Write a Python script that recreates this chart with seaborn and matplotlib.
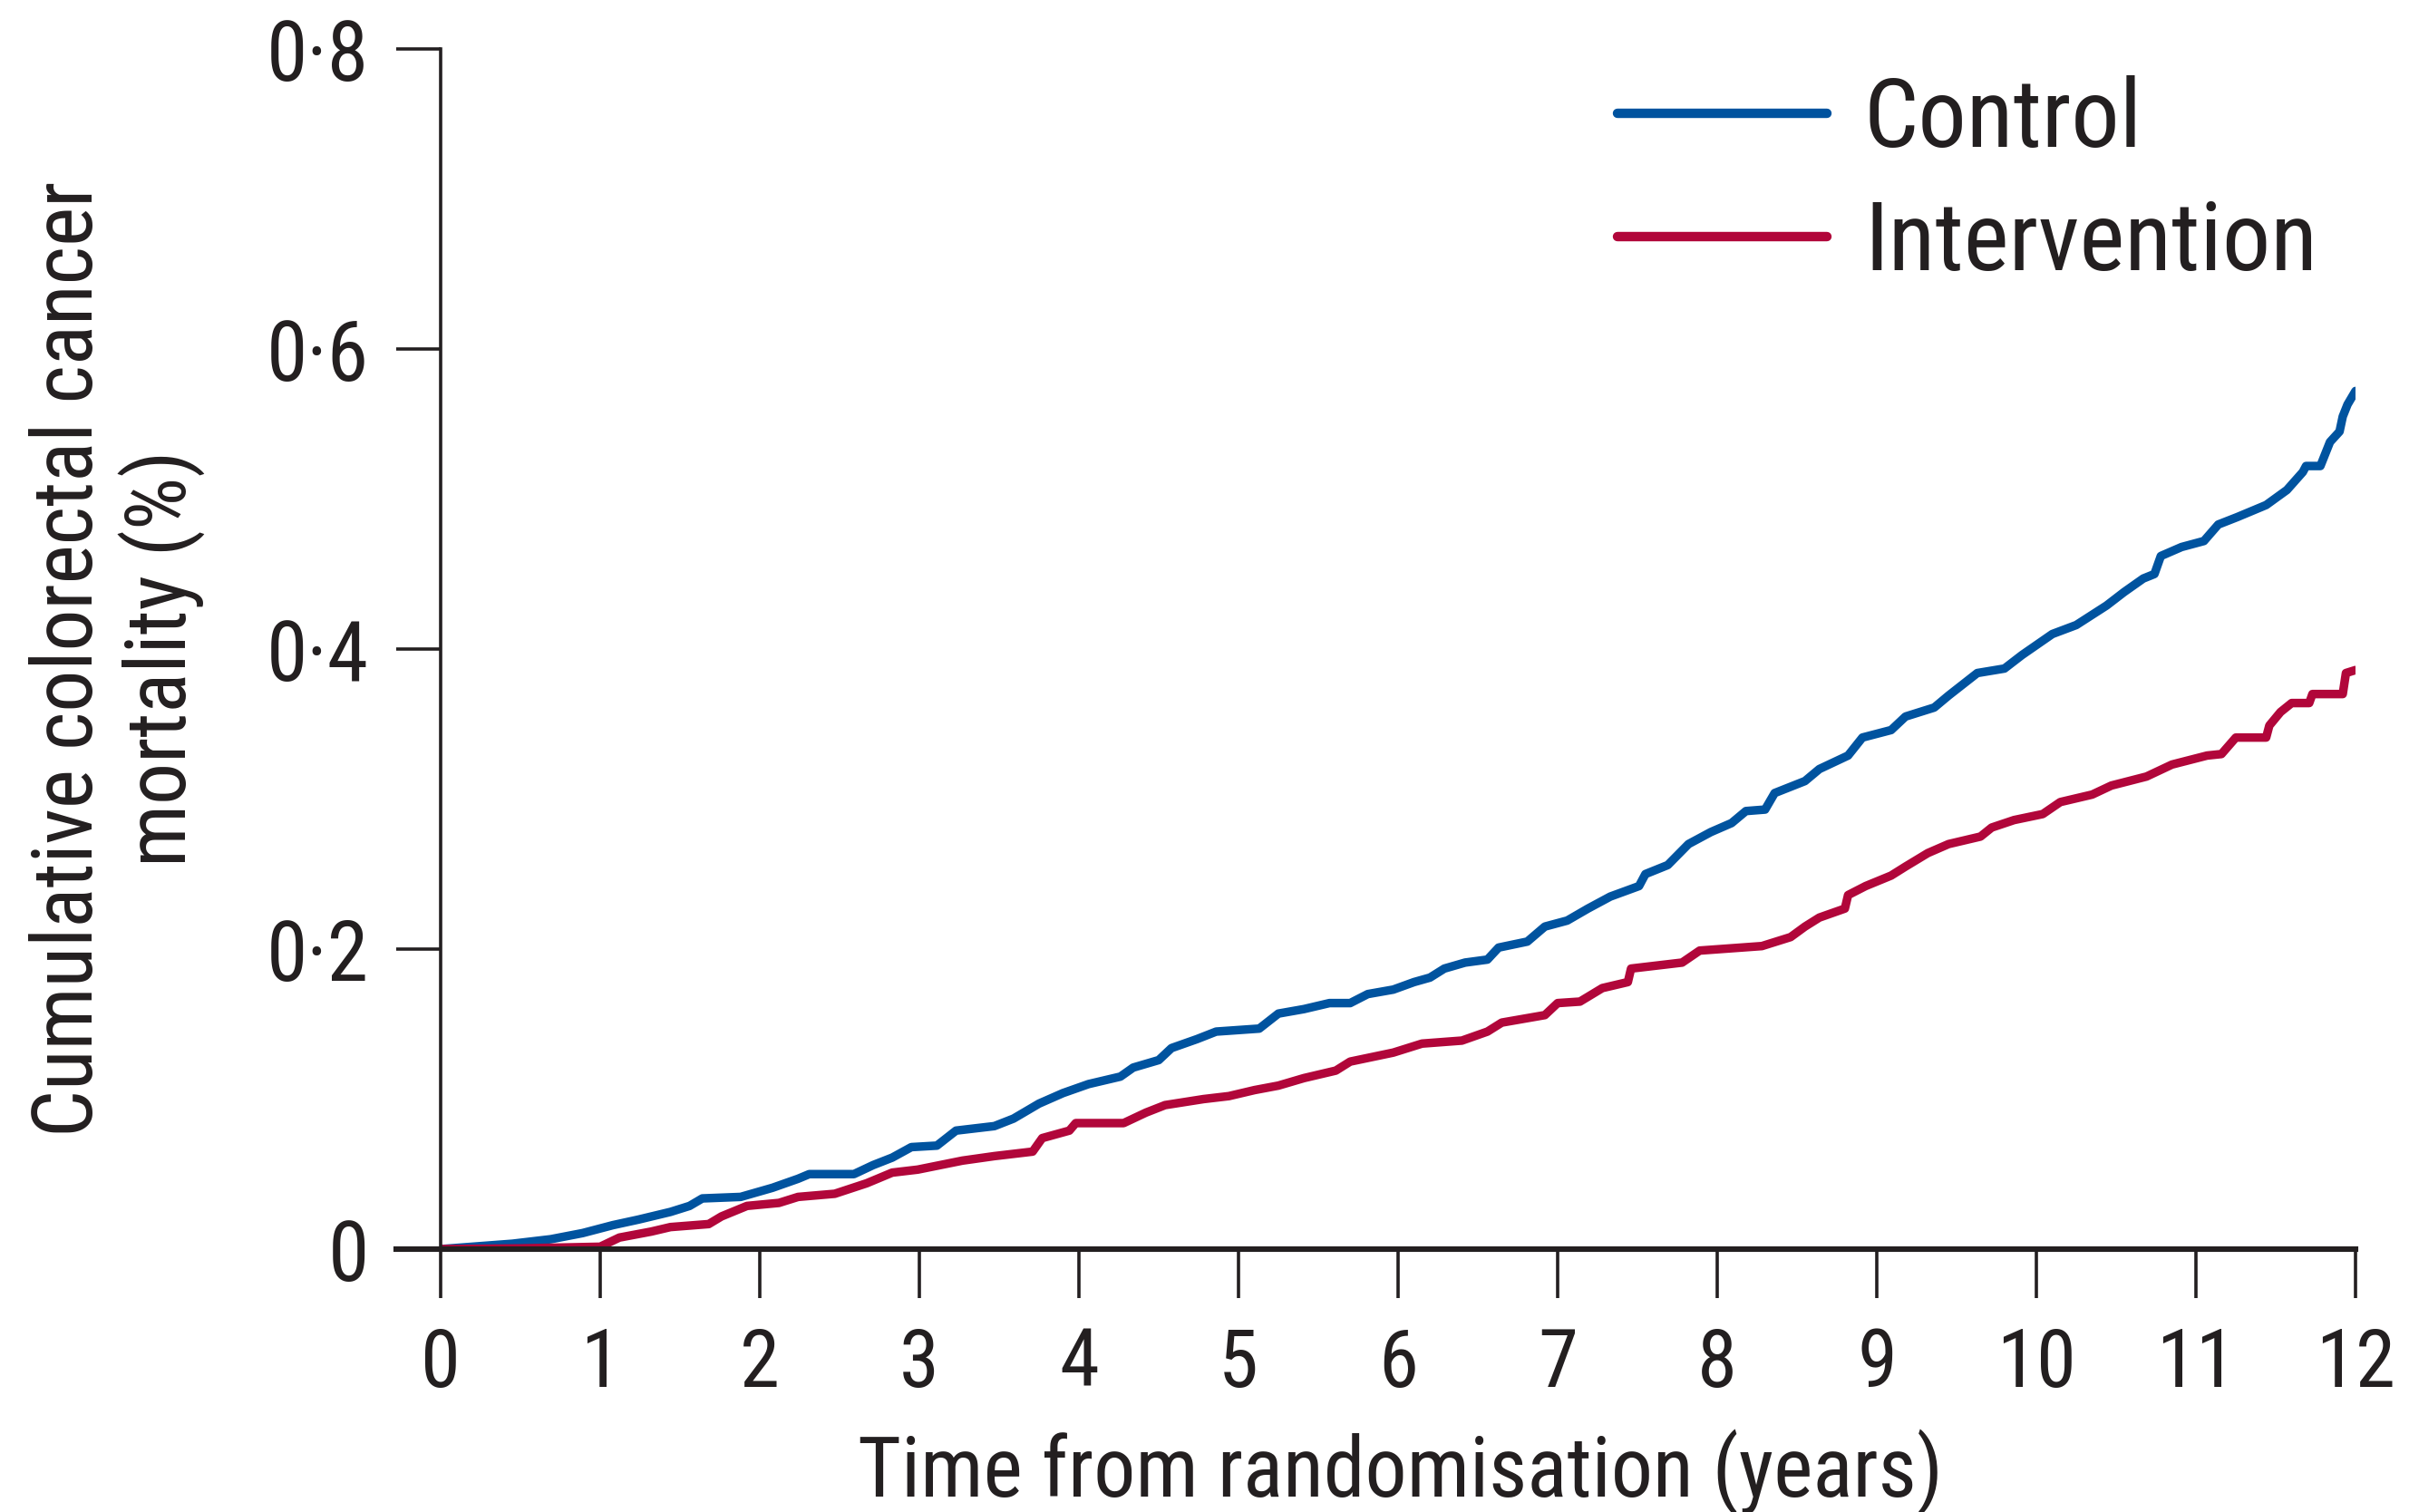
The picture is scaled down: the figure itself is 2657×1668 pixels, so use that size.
import os
import numpy as np
import pandas as pd
import matplotlib
matplotlib.use("Agg")
import matplotlib.pyplot as plt
from matplotlib import font_manager as fm
import seaborn as sns

# ---- data ----
groups = ["Control", "Intervention"]

years_control = [
    0, 0.45, 0.69, 0.89, 1.08, 1.24, 1.44, 1.56, 1.64, 1.88,
    2.08, 2.24, 2.31, 2.59, 2.71, 2.83, 2.95, 3.11, 3.23, 3.47,
    3.59, 3.75, 3.90, 4.06, 4.26, 4.34, 4.50, 4.58, 4.74, 4.86,
    5.13, 5.25, 5.41, 5.57, 5.70, 5.81, 5.97, 6.10, 6.20, 6.29,
    6.42, 6.56, 6.63, 6.81, 6.92, 7.06, 7.19, 7.33, 7.51, 7.55,
    7.69, 7.82, 7.96, 8.09, 8.18, 8.30, 8.36, 8.55, 8.64, 8.82,
    8.91, 9.09, 9.18, 9.36, 9.45, 9.63, 9.80, 9.91, 10.10, 10.25,
    10.44, 10.55, 10.67, 10.74, 10.78, 10.91, 11.05, 11.14, 11.26, 11.44,
    11.57, 11.67, 11.69, 11.78, 11.84, 11.90, 11.92, 11.95, 12.0,
]
mortality_control = [
    0, 0.0036, 0.0066, 0.0107, 0.016, 0.0197, 0.0248, 0.0288, 0.0338, 0.0348,
    0.0409, 0.0469, 0.050, 0.050, 0.056, 0.061, 0.068, 0.069, 0.079, 0.082,
    0.087, 0.097, 0.104, 0.110, 0.115, 0.121, 0.126, 0.134, 0.140, 0.145,
    0.147, 0.157, 0.160, 0.164, 0.164, 0.170, 0.173, 0.178, 0.181, 0.187,
    0.191, 0.193, 0.201, 0.205, 0.215, 0.219, 0.227, 0.235, 0.242, 0.250,
    0.256, 0.270, 0.278, 0.284, 0.292, 0.293, 0.304, 0.312, 0.320, 0.329,
    0.341, 0.346, 0.355, 0.361, 0.369, 0.384, 0.387, 0.396, 0.410, 0.416,
    0.429, 0.438, 0.447, 0.450, 0.462, 0.468, 0.472, 0.483, 0.488, 0.496,
    0.506, 0.518, 0.522, 0.522, 0.538, 0.545, 0.555, 0.563, 0.572,
]

years_intervention = [
    0, 0.5, 1.00, 1.12, 1.32, 1.44, 1.68, 1.76, 1.92, 2.12,
    2.24, 2.47, 2.67, 2.83, 2.99, 3.27, 3.47, 3.71, 3.77, 3.94,
    3.98, 4.28, 4.42, 4.54, 4.78, 4.94, 5.10, 5.25, 5.41, 5.61,
    5.70, 5.97, 6.15, 6.40, 6.56, 6.65, 6.92, 7.00, 7.14, 7.28,
    7.44, 7.46, 7.78, 7.89, 8.28, 8.46, 8.55, 8.64, 8.80, 8.82,
    8.93, 9.09, 9.18, 9.32, 9.45, 9.65, 9.72, 9.86, 10.04, 10.15,
    10.35, 10.47, 10.69, 10.85, 11.07, 11.16, 11.25, 11.44, 11.46, 11.53,
    11.60, 11.71, 11.73, 11.92, 11.94, 12.0,
]
mortality_intervention = [
    0, 0.0005, 0.0016, 0.0077, 0.0117, 0.0147, 0.0167, 0.0218, 0.0288, 0.0308,
    0.0348, 0.0369, 0.0439, 0.051, 0.053, 0.059, 0.062, 0.065, 0.074, 0.079,
    0.084, 0.084, 0.091, 0.096, 0.100, 0.102, 0.106, 0.109, 0.114, 0.119,
    0.125, 0.131, 0.137, 0.139, 0.145, 0.151, 0.156, 0.164, 0.165, 0.174,
    0.178, 0.187, 0.191, 0.199, 0.202, 0.208, 0.215, 0.221, 0.227, 0.236,
    0.242, 0.249, 0.255, 0.264, 0.270, 0.275, 0.281, 0.286, 0.290, 0.298,
    0.303, 0.309, 0.315, 0.323, 0.329, 0.330, 0.341, 0.341, 0.349, 0.358,
    0.364, 0.364, 0.370, 0.370, 0.384, 0.386,
]

x_ticks = list(range(0, 13))
x_tick_labels = [str(v) for v in x_ticks]
y_ticks = [0, 0.2, 0.4, 0.6, 0.8]
y_tick_labels = ["0", "0\u00b72", "0\u00b74", "0\u00b76", "0\u00b78"]

x_label = "Time from randomisation (years)"
y_label_lines = ["Cumulative colorectal cancer", "mortality (%)"]

# ---- styling ----
sns.set_style("ticks")
INK = "#231f20"
colors = {"Control": "#00539f", "Intervention": "#b1063a"}


def pick_condensed_font():
    fam_pref = ["liberation", "roboto", "open sans", "opensans", "noto sans", "notosans",
                "lato", "inter", "dejavu"]
    best = None
    for f in fm.fontManager.ttflist:
        fn = os.path.basename(f.fname).lower()
        nm = f.name.lower()
        tag = nm + " " + fn + " " + str(f.stretch).lower()
        if f.style != "normal":
            continue
        w = f.weight
        if isinstance(w, str):
            w = {"normal": 400, "regular": 400, "book": 400}.get(w.lower(), 0)
        if w != 400:
            continue
        if any(k in tag for k in ("mono", "serif", "cjk", "math", "display", "emoji",
                                  "symbol", "bold", "italic", "light", "thin", "medium",
                                  "black", "oblique")):
            continue
        if "semi" in tag:
            rs = 2
        elif "extra" in tag or "ultra" in tag:
            rs = 3
        elif "narrow" in tag or "condensed" in tag:
            rs = 1
        else:
            continue
        fr = len(fam_pref)
        for i, k in enumerate(fam_pref):
            if k in nm or k in fn:
                fr = i
                break
        key = (rs, fr, fn)
        if best is None or key < best[0]:
            best = (key, f.fname)
    if best is not None:
        return fm.FontProperties(fname=best[1])
    return fm.FontProperties(family=["Liberation Sans", "DejaVu Sans"])


FP = pick_condensed_font()


def fp(size):
    p = FP.copy()
    p.set_size(size)
    return p


df = pd.concat([
    pd.DataFrame({"year": years_control, "mortality": mortality_control, "group": "Control"}),
    pd.DataFrame({"year": years_intervention, "mortality": mortality_intervention,
                  "group": "Intervention"}),
], ignore_index=True)

W, H = 2657, 1668
fig = plt.figure(figsize=(W / 100, H / 100), dpi=100)
ax = fig.add_axes([486 / W, 1 - 1378 / H, (2598 - 486) / W, (1378 - 54) / H])
renderer = fig.canvas.get_renderer()


def fit_size(s, target_w, base=60.0):
    t = fig.text(0, 0, s, fontproperties=fp(base))
    w = t.get_window_extent(renderer).width
    t.remove()
    return base * target_w / w


sz_xtick = fit_size("10", 88)
sz_ytick = fit_size("0\u00b78", 113)
sz_xlabel = fit_size(x_label, 1198)
sz_ylabel = fit_size(y_label_lines[0], 1054)
sz_leg = fit_size("Intervention", 500)

sns.lineplot(data=df, x="year", y="mortality", hue="group", hue_order=groups,
             palette=colors, estimator=None, sort=False, linewidth=6.8,
             legend=False, ax=ax)

ax.set_xlim(0, 12)
ax.set_ylim(0, 0.8)
ax.set_xticks(x_ticks)
ax.set_xticklabels(x_tick_labels, fontproperties=fp(sz_xtick))
ax.set_yticks(y_ticks)
ax.set_yticklabels(y_tick_labels, fontproperties=fp(sz_ytick))

for s in ["top", "right"]:
    ax.spines[s].set_visible(False)
ax.spines["left"].set_linewidth(2.6)
ax.spines["bottom"].set_linewidth(4.4)
ax.spines["left"].set_color(INK)
ax.spines["bottom"].set_color(INK)
ax.spines["bottom"].set_bounds(-0.28, 12)

ax.tick_params(axis="x", length=39, width=2.6, color=INK, labelcolor=INK, pad=22)
ax.tick_params(axis="y", length=35, width=2.6, color=INK, labelcolor=INK, pad=22)

ax.set_xlabel(x_label, fontproperties=fp(sz_xlabel), color=INK, va="top")
ax.xaxis.set_label_coords(0.501, -0.150)
ax.set_ylabel("\n".join(y_label_lines), fontproperties=fp(sz_ylabel), color=INK,
              ha="center", va="center", linespacing=1.12)
ax.yaxis.set_label_coords(-0.169, 0.492)

# legend: handle 1784..2015 px, text starts at 2056 px, handle centres at 125 / 261 px
leg_px = sz_leg * 100 / 72
hl = (2015 - 1784) / leg_px
htp = (2056 - 2015) / leg_px
ls = 0.45
anchor = [1784 / W, 1 - 70 / H]


def make_legend():
    lg = ax.legend(handles=ax.get_lines()[:2], labels=groups, loc="upper left",
                   bbox_to_anchor=tuple(anchor), bbox_transform=fig.transFigure,
                   frameon=False, prop=fp(sz_leg), handlelength=hl, handletextpad=htp,
                   labelspacing=ls, borderpad=0, borderaxespad=0, labelcolor=INK)
    for ln in lg.get_lines():
        ln.set_linewidth(7.5)
    return lg


def handle_centres(lg):
    fig.canvas.draw()
    ys = []
    for ln in lg.get_lines():
        bb = ln.get_window_extent(renderer)
        ys.append(0.5 * (bb.y0 + bb.y1))
    return ys


leg = make_legend()
for _ in range(3):
    y0, y1 = handle_centres(leg)
    ls = ls + (136 - (y0 - y1)) / leg_px
    leg = make_legend()
    y0, y1 = handle_centres(leg)
    anchor[1] += ((H - 125) - y0) / H
    leg = make_legend()

fig.savefig("out.png", dpi=100, facecolor="white")
